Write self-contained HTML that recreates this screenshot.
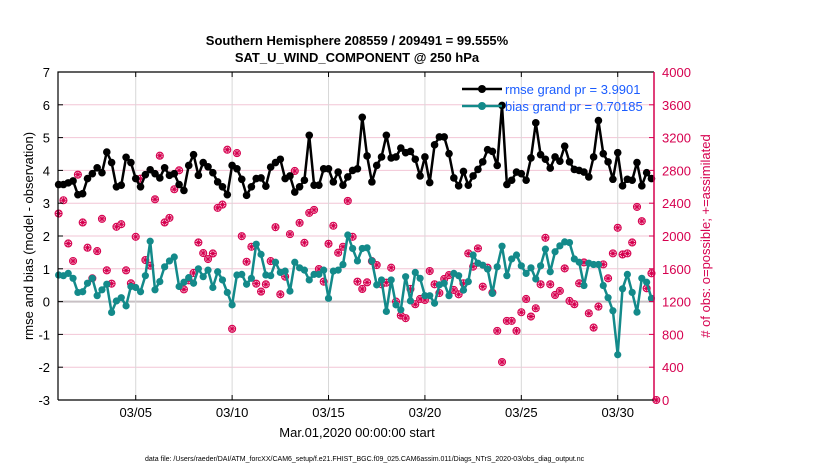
<!DOCTYPE html>
<html><head><meta charset="utf-8"><style>
body{margin:0;background:#fff;}
svg text{font-family:"Liberation Sans",Arial,sans-serif;}
</style></head><body>
<svg id="chart" width="830" height="470" xmlns="http://www.w3.org/2000/svg">
<g id="grid"></g>
<g id="series"></g>
<g id="axes"></g>
<text x="357" y="45" text-anchor="middle" font-size="13" font-weight="bold">Southern Hemisphere 208559 / 209491 = 99.555%</text>
<text x="357" y="62" text-anchor="middle" font-size="13" font-weight="bold">SAT_U_WIND_COMPONENT @ 250 hPa</text>
<text transform="translate(33,236) rotate(-90)" text-anchor="middle" font-size="13">rmse and bias (model - observation)</text>
<text transform="translate(710,236) rotate(-90)" text-anchor="middle" font-size="13" fill="#d6004f"># of obs: o=possible; +=assimilated</text>
<text x="357" y="437" text-anchor="middle" font-size="13">Mar.01,2020 00:00:00 start</text>
<text x="145" y="461" font-size="7">data file: /Users/raeder/DAI/ATM_forcXX/CAM6_setup/f.e21.FHIST_BGC.f09_025.CAM6assim.011/Diags_NTrS_2020-03/obs_diag_output.nc</text>
<g>
<line x1="462" y1="89" x2="502" y2="89" stroke="#000" stroke-width="2.5"/>
<circle cx="482" cy="89" r="4" fill="#000"/>
<text x="505" y="94" font-size="13" fill="#1a5cff">rmse grand pr = 3.9901</text>
<line x1="462" y1="106" x2="502" y2="106" stroke="#138a8a" stroke-width="2.5"/>
<circle cx="482" cy="106" r="4" fill="#138a8a"/>
<text x="505" y="111" font-size="13" fill="#1a5cff">bias grand pr = 0.70185</text>
</g>
</svg>
<script>
const rmse=[3.57,3.57,3.62,3.68,3.26,3.29,3.75,3.90,4.08,3.93,4.56,4.24,3.50,3.55,4.40,4.24,3.75,3.50,3.87,4.02,3.90,3.77,4.08,3.85,3.90,3.57,3.39,4.15,4.48,3.85,4.24,4.11,
3.93,3.65,3.50,3.26,4.15,4.05,3.73,3.24,3.50,3.75,3.77,3.52,4.10,4.24,4.34,3.75,3.83,3.34,3.50,3.70,5.07,3.55,3.55,4.05,4.05,3.65,3.95,3.55,3.80,4.0,4.05,
5.62,4.44,3.65,4.15,4.41,5.07,4.38,4.41,4.68,4.54,4.58,4.34,3.83,4.41,3.63,4.78,5.02,5.02,4.51,3.77,3.53,3.97,3.55,3.83,4.03,4.26,4.63,4.58,4.15,5.98,3.57,
3.70,3.95,3.90,3.70,4.38,5.45,4.48,4.34,4.07,4.41,4.28,4.74,4.26,4.03,4.0,3.95,3.80,4.41,5.52,4.51,4.26,3.73,4.54,3.53,3.73,3.70,4.24,3.53,3.93,3.75];
const bias=[0.81,0.79,0.86,0.71,0.28,0.30,0.56,0.71,0.18,0.36,0.53,-0.33,0.02,0.12,-0.13,0.46,0.43,0.30,0.79,1.84,0.36,0.61,1.06,1.24,1.36,0.46,0.59,0.73,0.56,1.0,0.76,0.96,
0.43,0.91,0.66,0.28,-0.10,0.81,0.83,0.53,0.71,1.75,1.44,0.81,0.79,1.20,0.89,0.93,0.32,1.20,1.03,0.96,0.66,0.83,0.83,0.96,0.10,0.93,0.96,1.13,2.03,1.62,1.24,
1.62,1.64,1.24,0.51,0.66,-0.30,0.66,-0.10,-0.25,0.76,0.02,0.89,0.71,0.18,0.18,-0.05,0.51,0.56,0.18,0.86,0.79,0.35,0.61,1.42,1.17,1.11,0.99,0.25,1.06,1.69,0.79,
1.30,1.42,1.09,0.86,1.03,0.69,1.09,1.60,0.91,1.52,1.70,1.82,1.80,1.30,1.20,0.49,1.17,1.13,1.13,0.49,0.12,-0.28,-1.62,0.39,0.83,0.28,-0.32,0.71,0.59,0.10];
const obsCount=[2274,2436,1909,1695,2748,2165,1857,1484,1816,2209,1581,1419,2112,2144,1581,1423,1990,2699,1707,1638,2448,2979,2165,2221,2570,2801,1349,1459,1549,1921,1792,1719,
1787,2343,2383,3052,868,3011,1998,1686,1869,1419,1322,1411,1694,2108,1289,1504,2023,2793,2160,1917,2282,2318,1597,1443,1905,2125,1796,1869,2428,1990,1443,
1354,1435,1694,1646,1411,1431,1613,1200,1030,998,1354,1168,1232,1220,1573,1411,1305,1476,1524,1342,1289,1423,1788,1626,1849,1382,1613,1309,843,463,965,
965,843,1070,1232,1018,1119,1411,1978,1411,1281,1330,1605,1208,1168,1423,1678,1058,883,1139,1654,1484,1788,2100,1775,1788,1921,2355,2181,1362,1545,0];
const leftTicks=[-3,-2,-1,0,1,2,3,4,5,6,7];
const rightTicks=[0,400,800,1200,1600,2000,2400,2800,3200,3600,4000];
const dateTicks=[4,9,14,19,24,29];
const dateLabels=["03/05","03/10","03/15","03/20","03/25","03/30"];

const L=58,R=654,T=72,B=400,NS="http://www.w3.org/2000/svg";
const xScale=d=>58.6+d*19.28;
const yScale=v=>B-(v+3)*(B-T)/10;
const yRight=c=>B-c*(B-T)/4000;
const PINK="#d6004f",TEAL="#138a8a";
function mk(tag,attrs,parent){const e=document.createElementNS(NS,tag);for(const k in attrs)e.setAttribute(k,attrs[k]);parent.appendChild(e);return e;}
const grid=document.getElementById('grid'),ser=document.getElementById('series'),ax=document.getElementById('axes');
leftTicks.forEach(v=>{
  const y=yScale(v);
  if(v!==0&&v>-3&&v<7){const g=mk('line',{x1:L,x2:R,y1:y,y2:y,stroke:'#f2c6d6','stroke-width':1},grid);
  
  }
  const t=mk('text',{x:L-8,y:y+5,'text-anchor':'end','font-size':13},ax);t.textContent=v;
  
  
  mk('line',{x1:L,x2:L+5,y1:y,y2:y,stroke:'#000'},ax);
});
const z=mk('line',{x1:L,x2:R,y1:yScale(0),y2:yScale(0),stroke:'#c8c0c4','stroke-width':2},grid);


dateTicks.forEach((d,i)=>{
  const x=xScale(d);
  const g=mk('line',{x1:x,x2:x,y1:T,y2:B,stroke:'#d8d8d8','stroke-width':1},grid);
  
  
  mk('line',{x1:x,x2:x,y1:B,y2:B-5,stroke:'#000'},ax);
  mk('line',{x1:x,x2:x,y1:T,y2:T+5,stroke:'#000'},ax);
  const t=mk('text',{x:x,y:B+17,'text-anchor':'middle','font-size':13},ax);t.textContent=dateLabels[i];
  
  
});
rightTicks.forEach(c=>{
  const y=yRight(c);
  mk('line',{x1:R,x2:R-5,y1:y,y2:y,stroke:PINK},ax);
  const t=mk('text',{x:R+8,y:y+5,'font-size':13,fill:PINK},ax);t.textContent=c;
  
  
});
mk('path',{d:`M${L},${B}V${T}H${R}`,fill:'none',stroke:'#000','stroke-width':1.2},ax);
mk('line',{x1:L,x2:R,y1:B,y2:B,stroke:'#000','stroke-width':1.2},ax);
mk('line',{x1:R,x2:R,y1:T,y2:B,stroke:PINK,'stroke-width':1.5},ax);

obsCount.forEach((c,i)=>{
  const x=xScale(i/4),y=yRight(c);
  const g=mk('g',{},ser);
  
  
  mk('circle',{cx:x,cy:y,r:3.5,fill:'#fbe3ec',stroke:PINK,'stroke-width':1.1},g);
  mk('path',{d:`M${x-3} ${y}H${x+3}M${x} ${y-3}V${y+3}M${x-2} ${y-2}L${x+2} ${y+2}M${x-2} ${y+2}L${x+2} ${y-2}`,stroke:PINK,'stroke-width':1},g);
});
function line(arr,color,name,r){
  const d=arr.map((v,i)=>(i?'L':'M')+xScale(i/4).toFixed(1)+' '+yScale(v).toFixed(1)).join('');
  const p=mk('path',{d:d,fill:'none',stroke:color,'stroke-width':2.5,'stroke-linejoin':'round'},ser);
  
  
  arr.forEach((v,i)=>{
    const c=mk('circle',{cx:xScale(i/4),cy:yScale(v),r:r,fill:color},ser);
    
    
  });
}
line(rmse,'#000','rmse',3.8);
line(bias,TEAL,'bias',3.6);
</script>
</body></html>
